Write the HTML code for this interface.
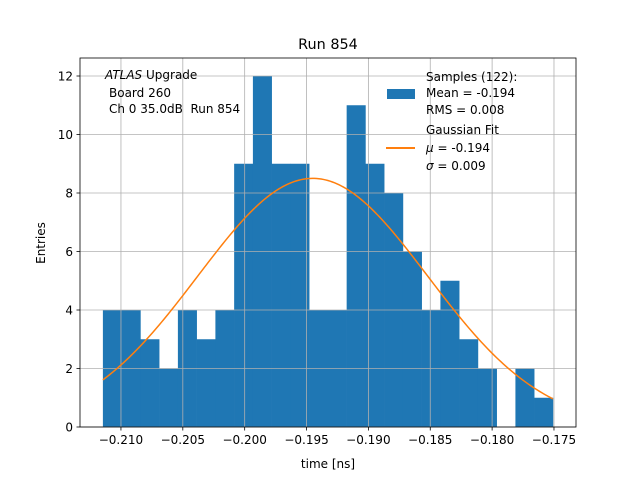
<!DOCTYPE html>
<html><head><meta charset="utf-8"><style>
body{margin:0;background:#fff}
svg{display:block;font-family:"DejaVu Sans","Liberation Sans",sans-serif}
</style></head><body>
<svg id="c" width="640" height="480" xmlns="http://www.w3.org/2000/svg">
<rect width="640" height="480" fill="#fff"/>
<g id="bars"></g><g id="grid"></g><g id="fit"></g><g id="axes"></g>
<text x="328" y="49" text-anchor="middle" font-size="14.4">Run 854</text>
<text x="328" y="468" text-anchor="middle" font-size="12">time [ns]</text>
<text transform="translate(45,243) rotate(-90)" text-anchor="middle" font-size="12">Entries</text>
<g font-size="12">
<text x="105" y="79"><tspan font-style="italic">ATLAS</tspan> Upgrade</text>
<text x="109" y="97">Board 260</text>
<text x="109" y="113">Ch 0 35.0dB&#160; Run 854</text>
</g>
<g font-size="12">
<rect x="387" y="89" width="28" height="10" fill="#1f77b4"/>
<text x="426" y="81">Samples (122):</text>
<text x="426" y="97">Mean = -0.194</text>
<text x="426" y="114">RMS = 0.008</text>
<line x1="386" y1="148" x2="415" y2="148" stroke="#ff7f0e" stroke-width="2"/>
<text x="426" y="134">Gaussian Fit</text>
<text x="426" y="152"><tspan font-style="italic">μ</tspan> = -0.194</text>
<text x="426" y="170"><tspan font-style="italic">σ</tspan> = 0.009</text>
</g>
</svg>
<script>
const counts=[4,4,3,2,4,3,4,9,12,9,9,4,4,11,9,8,6,4,5,3,2,0,2,1];
const binStart=-0.21146, binWidth=0.0015156;
const xTicks=[-0.210,-0.205,-0.200,-0.195,-0.190,-0.185,-0.180,-0.175];
const xTickLabels=["−0.210","−0.205","−0.200","−0.195","−0.190","−0.185","−0.180","−0.175"];
const yTicks=[0,2,4,6,8,10,12];
const fitAmp=8.5, fitMu=-0.1945, fitSigma=0.0093;
const L=80,R=576,T=58,B=427;
const X0=-0.21331,X1=-0.17322,Y1=(427-58)/29.25;
const sx=v=>L+(v-X0)/(X1-X0)*(R-L);
const sy=v=>B-v/Y1*(B-T);
const NS="http://www.w3.org/2000/svg";
function mk(tag,attrs,parent){const e=document.createElementNS(NS,tag);for(const k in attrs)e.setAttribute(k,attrs[k]);parent.appendChild(e);return e;}
const grid=document.getElementById('grid'),bars=document.getElementById('bars'),fit=document.getElementById('fit'),axes=document.getElementById('axes');
xTicks.forEach((t,i)=>{const x=sx(t);
const g=mk('line',{x1:x,x2:x,y1:T,y2:B,stroke:'#b0b0b0','stroke-width':0.8},grid);


const tk=mk('line',{x1:x,x2:x,y1:B,y2:B+3.5,stroke:'#000','stroke-width':0.8},axes);


const tx=mk('text',{x:x,y:B+17,'text-anchor':'middle','font-size':12},axes);tx.textContent=xTickLabels[i];

});
yTicks.forEach(t=>{const y=sy(t);
const g=mk('line',{x1:L,x2:R,y1:y,y2:y,stroke:'#b0b0b0','stroke-width':0.8},grid);


const tk=mk('line',{x1:L-3.5,x2:L,y1:y,y2:y,stroke:'#000','stroke-width':0.8},axes);


const tx=mk('text',{x:L-7,y:y+4.5,'text-anchor':'end','font-size':12},axes);tx.textContent=t;

});
counts.forEach((c,i)=>{if(!c)return;const x0=sx(binStart+i*binWidth),x1=sx(binStart+(i+1)*binWidth);
const r=mk('rect',{x:x0,y:sy(c),width:x1-x0+0.3,height:B-sy(c),fill:'#1f77b4'},bars);

});
let d='';const xa=binStart,xb=binStart+counts.length*binWidth;
for(let i=0;i<=200;i++){const v=xa+(xb-xa)*i/200;const y=fitAmp*Math.exp(-0.5*((v-fitMu)/fitSigma)**2);d+=(i?'L':'M')+sx(v).toFixed(2)+','+sy(y).toFixed(2);}
const p=mk('path',{d:d,fill:'none',stroke:'#ff7f0e','stroke-width':1.5},fit);


const f=mk('rect',{x:L,y:T,width:R-L,height:B-T,fill:'none',stroke:'#000','stroke-width':0.8},axes);


</script>
</body></html>
